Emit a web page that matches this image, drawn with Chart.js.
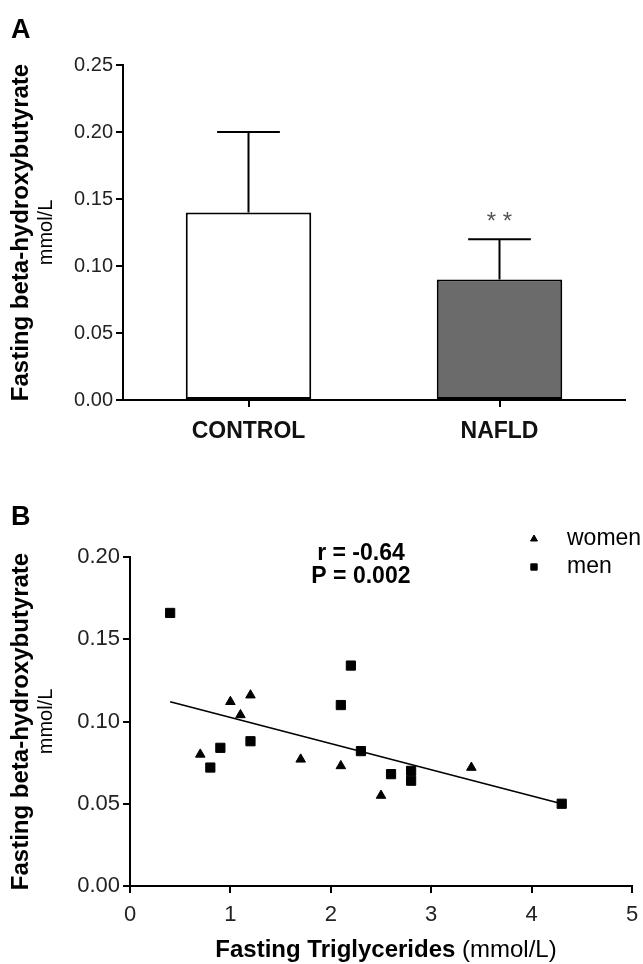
<!DOCTYPE html>
<html><head><meta charset="utf-8">
<script src="https://cdn.jsdelivr.net/npm/chart.js@4.4.0/dist/chart.umd.min.js"></script>
<style>
html,body{margin:0;padding:0;background:#fff;}
#wrap{position:relative;width:643px;height:964px;overflow:hidden;}
canvas{position:absolute;left:0;}
#cA{top:0;} #cB{top:470px;}
</style></head><body>
<div id="wrap"><canvas id="cA" width="643" height="470"></canvas><canvas id="cB" width="643" height="494"></canvas></div>
<script>
// ---- Panel A data ----
const groups = ['CONTROL', 'NAFLD'];
const groupMeans = [0.14, 0.09];
const groupSD = [0.06, 0.03];
const groupSig = ['', '**'];
const groupFill = ['#ffffff', '#6b6b6b'];
const yTicksA = [0, 0.05, 0.10, 0.15, 0.20, 0.25];

// ---- Panel B data ----
const womenTG = [0.7, 1.0, 1.1, 1.2, 1.7, 2.1, 2.5, 3.4];
const womenBHB = [0.080, 0.112, 0.104, 0.116, 0.077, 0.073, 0.055, 0.072];
const menTG = [0.4, 0.8, 0.9, 1.2, 2.1, 2.2, 2.3, 2.6, 2.8, 2.8, 4.3];
const menBHB = [0.166, 0.072, 0.084, 0.088, 0.110, 0.134, 0.082, 0.068, 0.070, 0.064, 0.050];
const fitTG = [0.4, 4.3];
const fitBHB = [0.112, 0.050];
const xTicksB = [0, 1, 2, 3, 4, 5];
const yTicksB = [0, 0.05, 0.10, 0.15, 0.20];
const statsText = ['r = -0.64', 'P = 0.002'];

const FONT = '"Liberation Sans", Arial, Helvetica, sans-serif';

const yTitle = 'Fasting beta-hydroxybutyrate';
const yUnit = 'mmol/L';

function drawYTitle(ctx, area) {
  const cy = (area.top + area.bottom) / 2;
  ctx.save();
  ctx.fillStyle = '#000';
  ctx.textAlign = 'center';
  ctx.textBaseline = 'middle';
  ctx.translate(21, cy);
  ctx.rotate(-Math.PI / 2);
  ctx.font = 'bold 24px ' + FONT;
  ctx.fillText(yTitle, 0, 0);
  ctx.restore();
  ctx.save();
  ctx.fillStyle = '#000';
  ctx.textAlign = 'center';
  ctx.textBaseline = 'middle';
  ctx.translate(46, cy);
  ctx.rotate(-Math.PI / 2);
  ctx.font = '20px ' + FONT;
  ctx.fillText(yUnit, 0, 0);
  ctx.restore();
}

const decoA = {
  id: 'decoA',
  afterDatasetsDraw(chart) {
    const { ctx, scales: { x, y } } = chart;
    const meta = chart.getDatasetMeta(0);
    ctx.save();
    ctx.strokeStyle = '#000';
    ctx.lineWidth = 2;
    groups.forEach((g, i) => {
      const bar = meta.data[i];
      const cx = bar.x;
      const yTop = y.getPixelForValue(groupMeans[i] + groupSD[i]);
      const yBar = y.getPixelForValue(groupMeans[i]);
      const half = bar.width / 4;
      ctx.beginPath();
      ctx.moveTo(cx, yBar);
      ctx.lineTo(cx, yTop);
      ctx.moveTo(cx - half, yTop);
      ctx.lineTo(cx + half, yTop);
      ctx.stroke();
      if (groupSig[i]) {
        ctx.fillStyle = '#555';
        ctx.font = '24px ' + FONT;
        ctx.textAlign = 'center';
        ctx.textBaseline = 'middle';
        ctx.fillText(groupSig[i].split('').join(' '), cx, yTop - 17);
      }
    });
    ctx.restore();
  },
  afterDraw(chart) {
    const ctx = chart.ctx;
    drawYTitle(ctx, chart.chartArea);
    ctx.save();
    ctx.fillStyle = '#000';
    ctx.font = 'bold 27px ' + FONT;
    ctx.textBaseline = 'alphabetic';
    ctx.fillText('A', 11, 38);
    ctx.restore();
  }
};

new Chart(document.getElementById('cA'), {
  type: 'bar',
  data: {
    labels: groups,
    datasets: [{
      data: groupMeans,
      backgroundColor: groupFill,
      borderColor: '#000',
      borderWidth: 2,
      borderSkipped: false,
      barPercentage: 0.5,
      categoryPercentage: 1.0
    }]
  },
  options: {
    responsive: false,
    animation: false,
    events: [],
    layout: { padding: { left: 0, right: 18, top: 65, bottom: 0 } },
    plugins: { legend: { display: false }, tooltip: { enabled: false } },
    scales: {
      x: {
        grid: { display: true, offset: false, drawOnChartArea: false, drawTicks: true, tickLength: 7, color: '#000', lineWidth: 2 },
        border: { display: true, color: '#000', width: 2 },
        ticks: { color: '#111', font: { family: FONT, size: 23, weight: 'bold' }, padding: 11 },
        afterFit(s) { s.height = 70; }
      },
      y: {
        min: 0, max: 0.25,
        afterBuildTicks(s) { s.ticks = yTicksA.map(v => ({ value: v })); },
        ticks: { callback: v => Number(v).toFixed(2), color: '#222', font: { family: FONT, size: 20 }, padding: 3 },
        grid: { drawOnChartArea: false, tickLength: 7, color: '#000', lineWidth: 2 },
        border: { color: '#000', width: 2 },
        afterFit(s) { s.width = 123; }
      }
    }
  },
  plugins: [decoA]
});

// ---- Panel B ----
const decoB = {
  id: 'decoB',
  afterDraw(chart) {
    const ctx = chart.ctx;
    const area = chart.chartArea;
    drawYTitle(ctx, area);
    ctx.save();
    ctx.fillStyle = '#000';
    ctx.font = 'bold 27px ' + FONT;
    ctx.textBaseline = 'alphabetic';
    ctx.fillText('B', 11, 55);
    // stats
    ctx.font = 'bold 23px ' + FONT;
    ctx.textAlign = 'center';
    ctx.textBaseline = 'middle';
    const sx = chart.scales.x.getPixelForValue(2.3);
    ctx.fillText(statsText[0], sx, area.top - 3);
    ctx.fillText(statsText[1], sx, area.top + 20);
    // legend
    const items = [chart.data.datasets[0], chart.data.datasets[1]];
    items.forEach((ds, i) => {
      const ly = 69 + i * 28;
      ctx.fillStyle = '#000';
      ctx.strokeStyle = '#000';
      ctx.lineWidth = 1;
      Chart.helpers.drawPoint(ctx, { pointStyle: ds.pointStyle, radius: ds.pointStyle === 'triangle' ? 4 : 4.5, borderWidth: 1, rotation: 0 }, 534, ly);
      ctx.font = '23px ' + FONT;
      ctx.textAlign = 'left';
      ctx.textBaseline = 'middle';
      ctx.fillStyle = '#000';
      ctx.fillText(ds.label, 567, ly);
    });
    ctx.restore();
  }
};

new Chart(document.getElementById('cB'), {
  type: 'scatter',
  data: {
    datasets: [
      {
        label: 'women',
        data: womenTG.map((v, i) => ({ x: v, y: womenBHB[i] })),
        pointStyle: 'triangle',
        pointRadius: 5.5,
        backgroundColor: '#000',
        borderColor: '#000',
        borderWidth: 1
      },
      {
        label: 'men',
        data: menTG.map((v, i) => ({ x: v, y: menBHB[i] })),
        pointStyle: 'rect',
        pointRadius: 6.5,
        backgroundColor: '#000',
        borderColor: '#000',
        borderWidth: 1
      },
      {
        type: 'line',
        label: 'fit',
        data: fitTG.map((v, i) => ({ x: v, y: fitBHB[i] })),
        borderColor: '#000',
        borderWidth: 1.6,
        pointRadius: 0,
        fill: false
      }
    ]
  },
  options: {
    responsive: false,
    animation: false,
    events: [],
    layout: { padding: { left: 0, right: 11, top: 87, bottom: 0 } },
    plugins: { legend: { display: false }, tooltip: { enabled: false } },
    scales: {
      x: {
        type: 'linear', min: 0, max: 5,
        afterBuildTicks(s) { s.ticks = xTicksB.map(v => ({ value: v })); },
        ticks: { color: '#222', font: { family: FONT, size: 22 }, padding: 9, callback: v => String(v) },
        grid: { drawOnChartArea: false, tickLength: 7, color: '#000', lineWidth: 2 },
        border: { color: '#000', width: 2 },
        afterFit(s) { s.height = 78; s.paddingRight = 0; }
      },
      y: {
        min: 0, max: 0.20,
        afterBuildTicks(s) { s.ticks = yTicksB.map(v => ({ value: v })); },
        ticks: { callback: v => Number(v).toFixed(2), color: '#222', font: { family: FONT, size: 22 }, padding: 3 },
        grid: { drawOnChartArea: false, tickLength: 7, color: '#000', lineWidth: 2 },
        border: { color: '#000', width: 2 },
        afterFit(s) { s.width = 130; }
      }
    }
  },
  plugins: [decoB, {
    id: 'xTitleB',
    afterDraw(chart) {
      const ctx = chart.ctx;
      const a = chart.chartArea;
      const cx = (a.left + a.right) / 2 + 5;
      const yy = 480;
      ctx.save();
      ctx.fillStyle = '#000';
      ctx.textBaseline = 'middle';
      const p1 = 'Fasting Triglycerides ';
      const p2 = '(mmol/L)';
      ctx.font = '24px ' + FONT;
      const w2 = ctx.measureText(p2).width;
      ctx.font = 'bold 24px ' + FONT;
      const w1 = ctx.measureText(p1).width;
      const x0 = cx - (w1 + w2) / 2;
      ctx.textAlign = 'left';
      ctx.fillText(p1, x0, yy);
      ctx.font = '24px ' + FONT;
      ctx.fillText(p2, x0 + w1, yy);
      ctx.restore();
    }
  }]
});
</script>
</body></html>
